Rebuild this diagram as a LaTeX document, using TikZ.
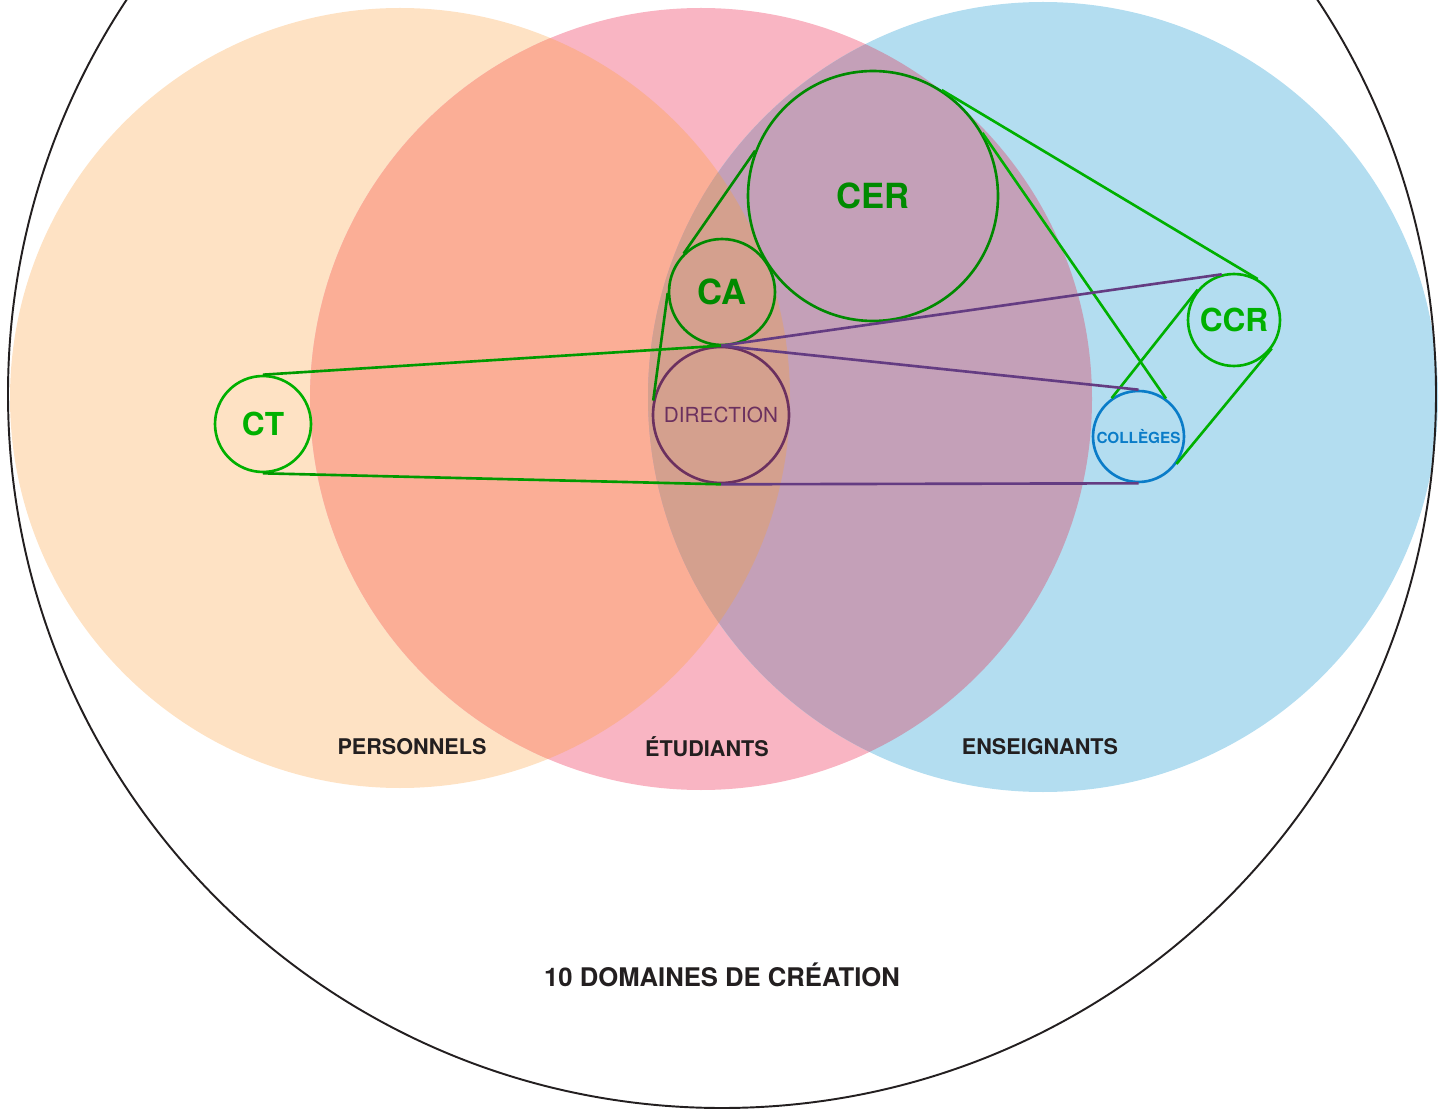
\documentclass[tikz,border=0pt]{standalone}
\usepackage{fontspec}
\setmainfont{TeX Gyre Heros}
\definecolor{orangeC}{HTML}{FEE2C4}
\definecolor{pinkC}{HTML}{F9B5C3}
\definecolor{blueC}{HTML}{B3DDF0}
\definecolor{salmonC}{HTML}{FBAE96}
\definecolor{mauveC}{HTML}{C4A0B8}
\definecolor{tanC}{HTML}{D4A08E}
\definecolor{dkgreen}{HTML}{008A00}
\definecolor{midgreen}{HTML}{009A00}
\definecolor{ltgreen}{HTML}{00B000}
\definecolor{dirpurple}{HTML}{6B305F}
\definecolor{linepurple}{HTML}{643C82}
\definecolor{colblue}{HTML}{0A7CC8}
\definecolor{ink}{HTML}{231F20}

\begin{document}
\begin{tikzpicture}[x=0.02cm, y=-0.02cm,
  organ/.style={draw, circle, inner sep=0pt, line width=1.5pt, font=\bfseries},
  groupe/.style={text=ink, font=\bfseries\fontsize{12.3}{13}\selectfont},
  lien/.style={line width=1.5pt}]
\useasboundingbox (0,0) rectangle (1454,1111);
\clip (0,0) rectangle (1454,1111);
\def\pers{(400,398) circle (390)}
\def\etud{(701,399) circle (391)}
\def\ens{(1043,397) circle (395)}
\fill[orangeC] \pers;
\fill[pinkC] \etud;
\fill[blueC] \ens;
\begin{scope} \clip \pers; \fill[salmonC] \etud; \end{scope}
\begin{scope} \clip \etud; \fill[mauveC] \ens; \end{scope}
\begin{scope} \clip \pers; \clip \etud; \fill[tanC] \ens; \end{scope}
\draw[ink, line width=1.1pt] (722,394) circle (714);

\node[organ, dkgreen, minimum size=5cm, font=\bfseries\fontsize{19.7}{20}\selectfont] (cer) at (873,196) {CER};
\node[organ, dkgreen, minimum size=2.12cm, font=\bfseries\fontsize{19.7}{20}\selectfont] (ca) at (722,292) {CA};
\node[organ, dirpurple, minimum size=2.72cm, font=\fontsize{11.8}{12}\selectfont] (dir) at (721,415) {DIRECTION};
\node[organ, ltgreen, minimum size=1.92cm, font=\bfseries\fontsize{18}{18}\selectfont] (ct) at (263,424) {CT};
\node[organ, ltgreen, minimum size=1.84cm, font=\bfseries\fontsize{18}{18}\selectfont] (ccr) at (1234,320) {CCR};
\node[organ, colblue, minimum size=1.82cm, font=\bfseries\fontsize{8.7}{9}\selectfont] (col) at (1138.5,436.5) {COLLÈGES};

\draw[lien, dkgreen] (ca.135) -- (cer.159);
\draw[lien, dkgreen] (ca.181) -- (dir.168);
\draw[lien, ltgreen] (cer.57) -- (ccr.60);
\draw[lien, ltgreen] (cer.30) -- (col.54);
\draw[lien, ltgreen] (ccr.140) -- (col.125);
\draw[lien, ltgreen] (ccr.-37) -- (col.-36);
\draw[lien, linepurple] (dir.north) -- (ccr.105);
\draw[lien, linepurple] (dir.north) -- (col.north);
\draw[lien, linepurple] (dir.south) -- (col.south);
\draw[lien, midgreen] (ct.north) -- (dir.north);
\draw[lien, midgreen] (ct.south) -- (dir.south);

\node[groupe] (personnels) at (412,747) {PERSONNELS};
\node[groupe] (etudiants) at (707,747) {ÉTUDIANTS};
\node[groupe] (enseignants) at (1040,747) {ENSEIGNANTS};
\node[text=ink, font=\bfseries\fontsize{14.6}{15}\selectfont] (domaines) at (722,975) {10 DOMAINES DE CRÉATION};
\end{tikzpicture}
\end{document}
